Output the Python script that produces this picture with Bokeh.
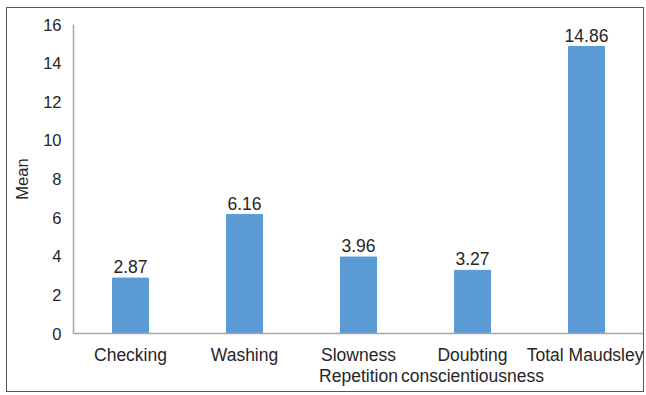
from bokeh.plotting import figure
from bokeh.models import ColumnDataSource, Range1d, FixedTicker, LabelSet
from bokeh.core.properties import value
from bokeh.embed import file_html
from bokeh.resources import INLINE

categories = ["Checking", "Washing", "Slowness\nRepetition", "Doubting\nconscientiousness", "Total Maudsley"]
values = [2.87, 6.16, 3.96, 3.27, 14.86]
value_labels = ["2.87", "6.16", "3.96", "3.27", "14.86"]
y_ticks = [0, 2, 4, 6, 8, 10, 12, 14, 16]

src = ColumnDataSource(dict(cat=categories, val=values, lab=value_labels))

p = figure(x_range=categories, y_range=Range1d(0, 16), width=638, height=385,
           output_backend="svg", toolbar_location=None,
           min_border_left=66, min_border_right=2, min_border_top=16, min_border_bottom=60)
p.styles = {"margin-left": "6px", "margin-top": "7px", "border": "1px solid #555555"}
p.outline_line_color = None
p.grid.visible = False
p.background_fill_color = "white"

p.vbar(x="cat", top="val", width=0.316, source=src, color="#5B9BD5")

labels = LabelSet(x="cat", y="val", text="lab", source=src, text_align="center",
                  text_baseline="bottom", y_offset=5, text_font=value("Liberation Sans"),
                  text_font_size="17.5px", text_color="#262626")
p.add_layout(labels)

for ax in (p.xaxis, p.yaxis):
    ax.axis_line_color = "#A6A6A6"
    ax.axis_line_width = 1.5
    ax.major_tick_line_color = None
    ax.minor_tick_line_color = None
    ax.major_label_text_font = "Liberation Sans"
    ax.major_label_text_color = "#262626"

p.xaxis.major_label_text_font_size = "17.5px"
p.xaxis.major_label_text_line_height = 1.05
p.yaxis.major_label_text_font_size = "16.5px"
p.yaxis.ticker = FixedTicker(ticks=y_ticks)
p.yaxis.major_label_standoff = 6
p.xaxis.major_label_standoff = 5
p.yaxis.axis_label = "Mean"
p.yaxis.axis_label_text_font = "Liberation Sans"
p.yaxis.axis_label_text_font_style = "normal"
p.yaxis.axis_label_text_font_size = "16.5px"
p.yaxis.axis_label_text_color = "#262626"
p.yaxis.axis_label_standoff = 9

open("out.html", "w").write(file_html(p, INLINE))
